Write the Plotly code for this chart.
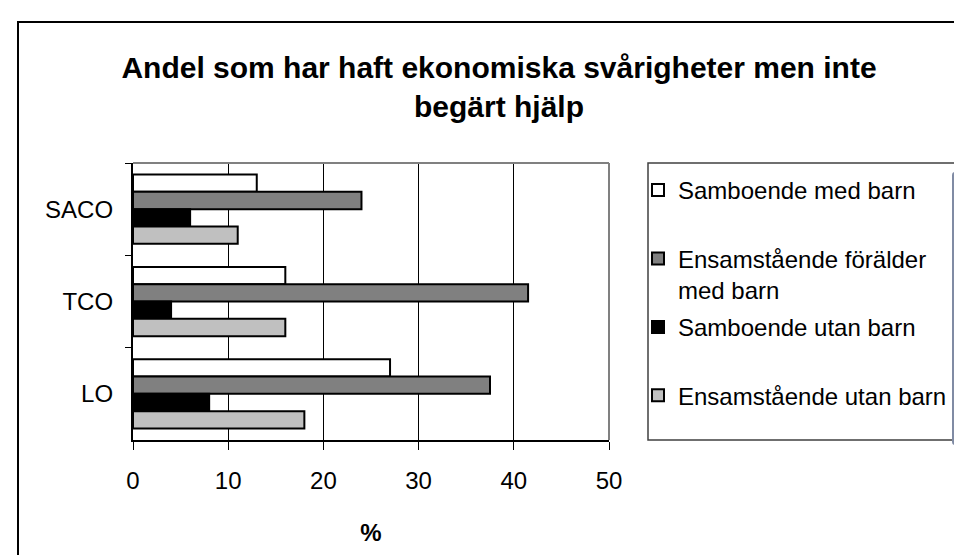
import plotly.graph_objects as go

categories = ["SACO", "TCO", "LO"]
series_names = [
    "Samboende med barn",
    "Ensamstående förälder<br>med barn",
    "Samboende utan barn",
    "Ensamstående utan barn",
]
samboende_med_barn = [13, 16, 27]
ensamstaende_foralder = [24, 41.5, 37.5]
samboende_utan_barn = [6, 4, 8]
ensamstaende_utan_barn = [11, 16, 18]
series_values = [samboende_med_barn, ensamstaende_foralder,
                 samboende_utan_barn, ensamstaende_utan_barn]
colors = ["#FFFFFF", "#808080", "#000000", "#C0C0C0"]
x_ticks = [0, 10, 20, 30, 40, 50]

title_text = "Andel som har haft ekonomiska svårigheter men inte<br>begärt hjälp"
x_title = "%"

W, H = 962, 555
L, R, T, B = 125, 601, 155, 432  # plot area in pixels


def px_x(p):
    return (p - L) / (R - L)


def px_y(p):
    return (B - p) / (B - T)


FONT = "Liberation Sans, Arial, sans-serif"

fig = go.Figure()
for name, vals, col in zip(series_names, series_values, colors):
    # pad single-line legend entries to two lines so entries are evenly spaced
    legend_label = name if "<br>" in name else name + "<br>\u00a0"
    fig.add_trace(go.Bar(
        y=categories, x=vals, name=legend_label, orientation="h",
        marker=dict(color=col, line=dict(color="#000000", width=2)),
        legendgroup=name,
    ))

fig.update_layout(
    width=W, height=H,
    margin=dict(l=L, r=W - R, t=T, b=H - B, autoexpand=False),
    paper_bgcolor="white", plot_bgcolor="white",
    font=dict(family=FONT, size=24, color="black"),
    barmode="group", bargap=0.25, bargroupgap=0,
    title=dict(text=title_text, x=491 / W, xanchor="center",
               y=1 - 70 / H, yanchor="middle", yref="container",
               font=dict(family=FONT, size=30, color="black", weight="bold")),
    showlegend=True,
    legend=dict(x=px_x(630), xanchor="left", y=px_y(160), yanchor="top",
                bgcolor="rgba(0,0,0,0)", borderwidth=0,
                font=dict(family=FONT, size=24, color="black"),
                tracegroupgap=3, valign="top", traceorder="grouped"),
    xaxis=dict(range=[0, 50], tickvals=x_ticks, ticks="outside", ticklen=8,
               tickcolor="black", tickwidth=1, showline=True, linecolor="black",
               linewidth=1.5, showgrid=True, gridcolor="#000000", gridwidth=1,
               zeroline=False, ticklabelstandoff=10,
               title=dict(text=x_title, standoff=32,
                          font=dict(family=FONT, size=24, weight="bold")),
               fixedrange=True),
    yaxis=dict(type="category", categoryorder="array", categoryarray=categories,
               autorange="reversed", tickson="boundaries", ticks="outside",
               ticklen=6, tickcolor="black", showline=True, linecolor="black",
               linewidth=1.5, showgrid=False, zeroline=False, ticksuffix="  ",
               fixedrange=True),
)

shapes = [
    # plot area top & right borders (gray)
    dict(type="line", xref="paper", yref="paper", x0=0, x1=1, y0=1, y1=1,
         line=dict(color="#808080", width=2)),
    dict(type="line", xref="paper", yref="paper", x0=1, x1=1, y0=0, y1=1,
         line=dict(color="#808080", width=2)),
    # legend box
    dict(type="rect", xref="paper", yref="paper", x0=px_x(640), x1=px_x(975),
         y0=px_y(432), y1=px_y(155), line=dict(color="#404040", width=1.5),
         layer="below"),
    # outer chart border
    dict(type="rect", xref="paper", yref="paper", x0=px_x(10), x1=px_x(980),
         y0=px_y(570), y1=px_y(14), line=dict(color="black", width=2),
         layer="below"),
]
fig.update_layout(shapes=shapes)

fig.write_html("out.html")
